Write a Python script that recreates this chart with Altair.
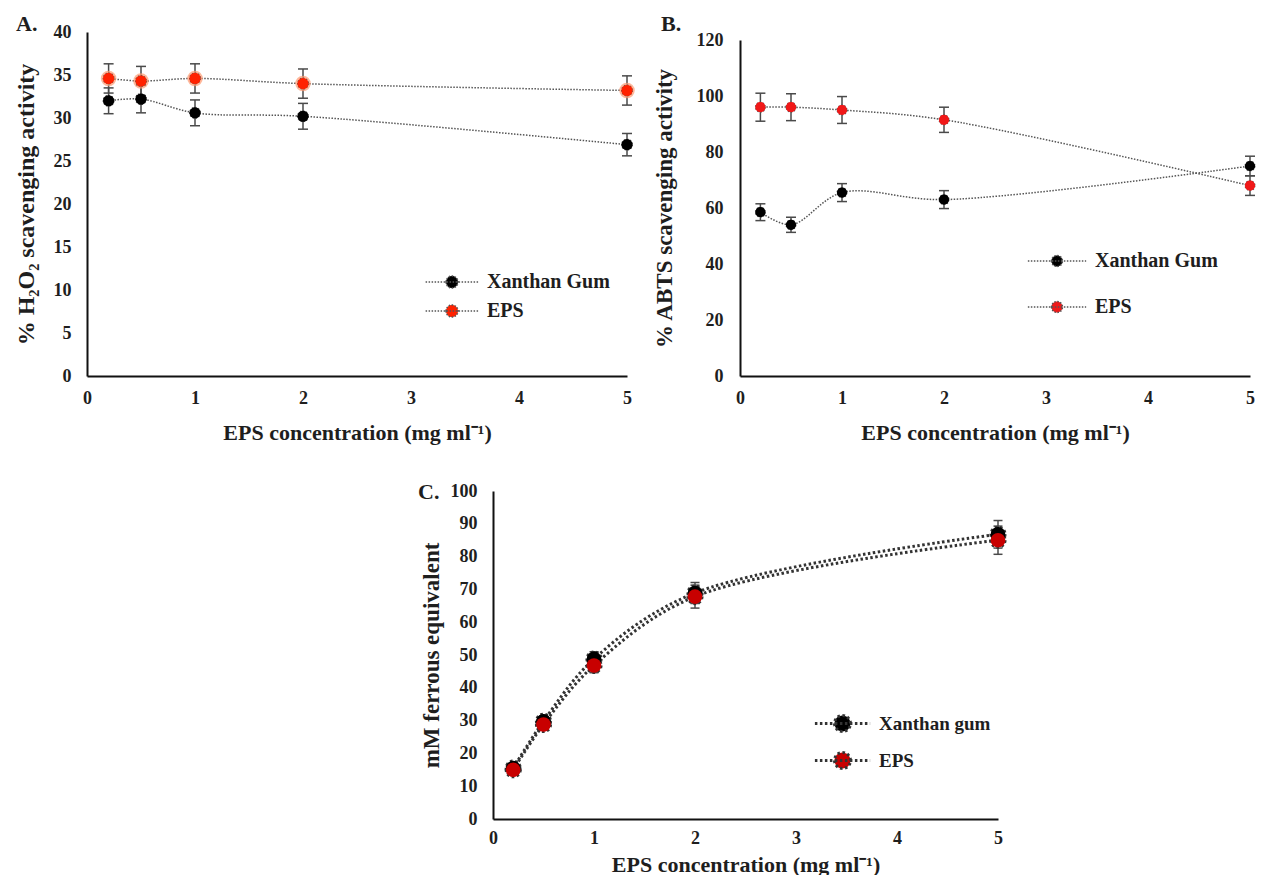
import altair as alt
import pandas as pd

# ---- data ----
conc = [0.2, 0.5, 1, 2, 5]
x_ticks = [0, 1, 2, 3, 4, 5]

a_names = ["Xanthan Gum", "EPS"]
a_xg = [32.0, 32.2, 30.6, 30.2, 26.9]
a_xg_err = [1.5, 1.6, 1.5, 1.5, 1.3]
a_eps = [34.6, 34.3, 34.6, 34.0, 33.2]
a_eps_err = [1.7, 1.7, 1.7, 1.7, 1.7]

b_names = ["Xanthan Gum", "EPS"]
b_xg = [58.5, 54.0, 65.5, 63.0, 75.0]
b_xg_err = [3.0, 2.7, 3.2, 3.2, 3.5]
b_eps = [96.0, 96.0, 95.0, 91.5, 68.0]
b_eps_err = [5.0, 4.8, 4.8, 4.5, 3.5]

c_names = ["Xanthan gum", "EPS"]
c_xg = [15.5, 29.8, 48.8, 68.9, 86.8]
c_xg_err = [1.0, 1.5, 2.2, 3.2, 4.2]
c_eps = [15.0, 28.8, 46.8, 67.8, 85.0]
c_eps_err = [0.8, 1.5, 2.2, 3.5, 4.3]

XTITLE = "EPS concentration (mg ml\u207b\u00b9)"
FONT = "Liberation Serif"
INK = "#1e1e1e"


def panel(xg, xg_err, eps, eps_err, names, ymax, ystep, ytitle, letter, o):
    df = pd.DataFrame({
        "x": conc + conc,
        "y": xg + eps,
        "err": xg_err + eps_err,
        "s": [names[0]] * len(conc) + [names[1]] * len(conc),
    })
    c0, c1 = o["colors"]
    base = alt.Chart(df).transform_calculate(
        lo="datum.y - datum.err", hi="datum.y + datum.err",
        col=f"datum.s === '{names[0]}' ? '{c0}' : '{c1}'",
    )
    h = o["h"]
    xscale = alt.Scale(domain=[0, 5], nice=False, zero=False)
    yscale = alt.Scale(domain=[0, ymax], nice=False, range=[h, o["ytop"]])
    xaxis = alt.Axis(values=x_ticks, labelFlush=False, labelPadding=o["xlp"],
                     titlePadding=o["xtp"], titleFontSize=o["xtfs"])
    yaxis = alt.Axis(values=list(range(0, ymax + 1, ystep)), labelPadding=o["ylp"],
                     titlePadding=o["ytp"], titleFontSize=o["ytfs"])

    def X(f):
        return alt.X(f, scale=xscale, axis=xaxis, title=XTITLE)

    def Y(f):
        return alt.Y(f, scale=yscale, axis=yaxis, title=ytitle)

    lines = base.mark_line(
        interpolate="catmull-rom", color=o["lc"], strokeWidth=o["lw"],
        strokeDash=o["dash"]
    ).encode(x=X("x:Q"), y=Y("y:Q"), detail="s:N")
    rules = base.mark_rule(color="#4a4a4a", strokeWidth=1.5).encode(
        x=X("x:Q"), y=Y("lo:Q"), y2="hi:Q")
    cap_lo = base.mark_tick(orient="horizontal", size=o["cap"], thickness=1.5,
                            color="#4a4a4a", opacity=1).encode(x=X("x:Q"), y=Y("lo:Q"))
    cap_hi = base.mark_tick(orient="horizontal", size=o["cap"], thickness=1.5,
                            color="#4a4a4a", opacity=1).encode(x=X("x:Q"), y=Y("hi:Q"))
    legend = alt.Legend(
        orient="none", legendX=o["lx"], legendY=o["ly"], title=None,
        symbolType=o["sym"], symbolSize=o["ssize"], symbolStrokeWidth=o["lw"],
        symbolDash=o["dash"], symbolOffset=o["soff"], labelOffset=o["loff"],
        rowPadding=o["rp"], padding=0, labelFont=FONT, labelFontWeight="bold",
        labelFontSize=o["lfs"], labelColor=INK, labelLimit=300,
    )
    layers = [lines, rules, cap_lo, cap_hi]
    if o.get("halo"):
        halo = base.mark_point(filled=True, opacity=0.7, size=o["halo_size"],
                               color=o["halo"]).encode(
            x=X("x:Q"), y=Y("y:Q"),
        ).transform_filter(f"datum.s === '{names[1]}'")
        layers.append(halo)
    pts = base.mark_point(
        filled=True, opacity=1, size=o["psize"], stroke=o["lc"],
        strokeWidth=o["lw"], strokeDash=o["dash"]
    ).encode(
        x=X("x:Q"), y=Y("y:Q"),
        color=alt.Color("s:N", scale=alt.Scale(domain=names, range=[c0, c1]),
                        legend=legend, sort=names),
    )
    layers.append(pts)
    cover = base.mark_point(filled=True, opacity=1, size=o["psize"] + 14).encode(
        x=X("x:Q"), y=Y("y:Q"),
        fill=alt.Fill("col:N", scale=None),
    )
    layers.append(cover)
    return alt.layer(*layers).properties(
        width=o["w"], height=h,
        title=alt.TitleParams(letter, anchor="start", frame="group", dx=o["tdx"],
                              offset=o["toff"], fontSize=22, font=FONT,
                              fontWeight="bold", color=INK),
    )


opt_a = dict(w=540, h=344, ytop=0, xlp=13, xtp=15, ylp=16, ytp=15, ytfs=24, xtfs=22,
             colors=["#000000", "#ff2200"], halo="#ff9a70", halo_size=240,
             lc="#555555", lw=1.5, dash=[1.5, 1.5], cap=10, psize=110,
             lx=335, ly=240, sym="M-4.4,0L4.4,0M-1,0A1,1,0,1,0,1,0A1,1,0,1,0,-1,0Z",
             ssize=144, soff=20, loff=25, rp=9, lfs=20, tdx=-71, toff=-13)
opt_b = dict(w=510, h=344, ytop=8, xlp=13, xtp=15, ylp=17, ytp=20, ytfs=23, xtfs=22,
             colors=["#000000", "#f01818"], lc="#555555", lw=1.5, dash=[1.5, 1.5],
             cap=10, psize=90,
             lx=285, ly=219, sym="M-5.3,0L5.3,0M-1,0A1,1,0,1,0,1,0A1,1,0,1,0,-1,0Z",
             ssize=121, soff=22, loff=28, rp=26, lfs=20, tdx=-79, toff=-5)
opt_c = dict(w=505, h=328, ytop=0, xlp=10, xtp=7, ylp=16, ytp=7, ytfs=23, xtfs=22,
             colors=["#000000", "#c80000"], lc="#333333", lw=3, dash=[2.5, 2.5],
             cap=9, psize=200,
             lx=322, ly=223, sym="M-3.45,0L3.45,0M-1,0A1,1,0,1,0,1,0A1,1,0,1,0,-1,0Z",
             ssize=256, soff=18, loff=27, rp=8, lfs=19, tdx=-75, toff=-22)

A = panel(a_xg, a_xg_err, a_eps, a_eps_err, a_names, 40, 5,
          "% H\u2082O\u2082 scavenging activity", "A.", opt_a)
B = panel(b_xg, b_xg_err, b_eps, b_eps_err, b_names, 120, 20,
          "% ABTS scavenging activity", "B.", opt_b)
C = panel(c_xg, c_xg_err, c_eps, c_eps_err, c_names, 100, 10,
          "mM ferrous equivalent", "C.", opt_c)

spacer = alt.Chart(pd.DataFrame({"v": [0]})).mark_point(size=1, opacity=0).encode(
    x=alt.value(2), y=alt.value(2)
).properties(width=331, height=20)

top = alt.hconcat(A, B, spacing=17).resolve_scale(color="independent")
bottom = alt.hconcat(spacer, C, spacing=0).resolve_scale(color="independent")

chart = alt.vconcat(top, bottom, spacing=38).resolve_scale(
    color="independent"
).properties(
    padding={"left": 6, "top": 5, "right": 0, "bottom": 0}
).configure_view(strokeWidth=0).configure_axis(
    domainColor="#111111", domainWidth=2, ticks=False, grid=False,
    labelFont=FONT, labelFontWeight="bold", labelFontSize=18, labelColor=INK,
    titleFont=FONT, titleFontWeight="bold", titleColor=INK,
)

chart.save("out.html", embed_options={"renderer": "svg", "actions": False})
